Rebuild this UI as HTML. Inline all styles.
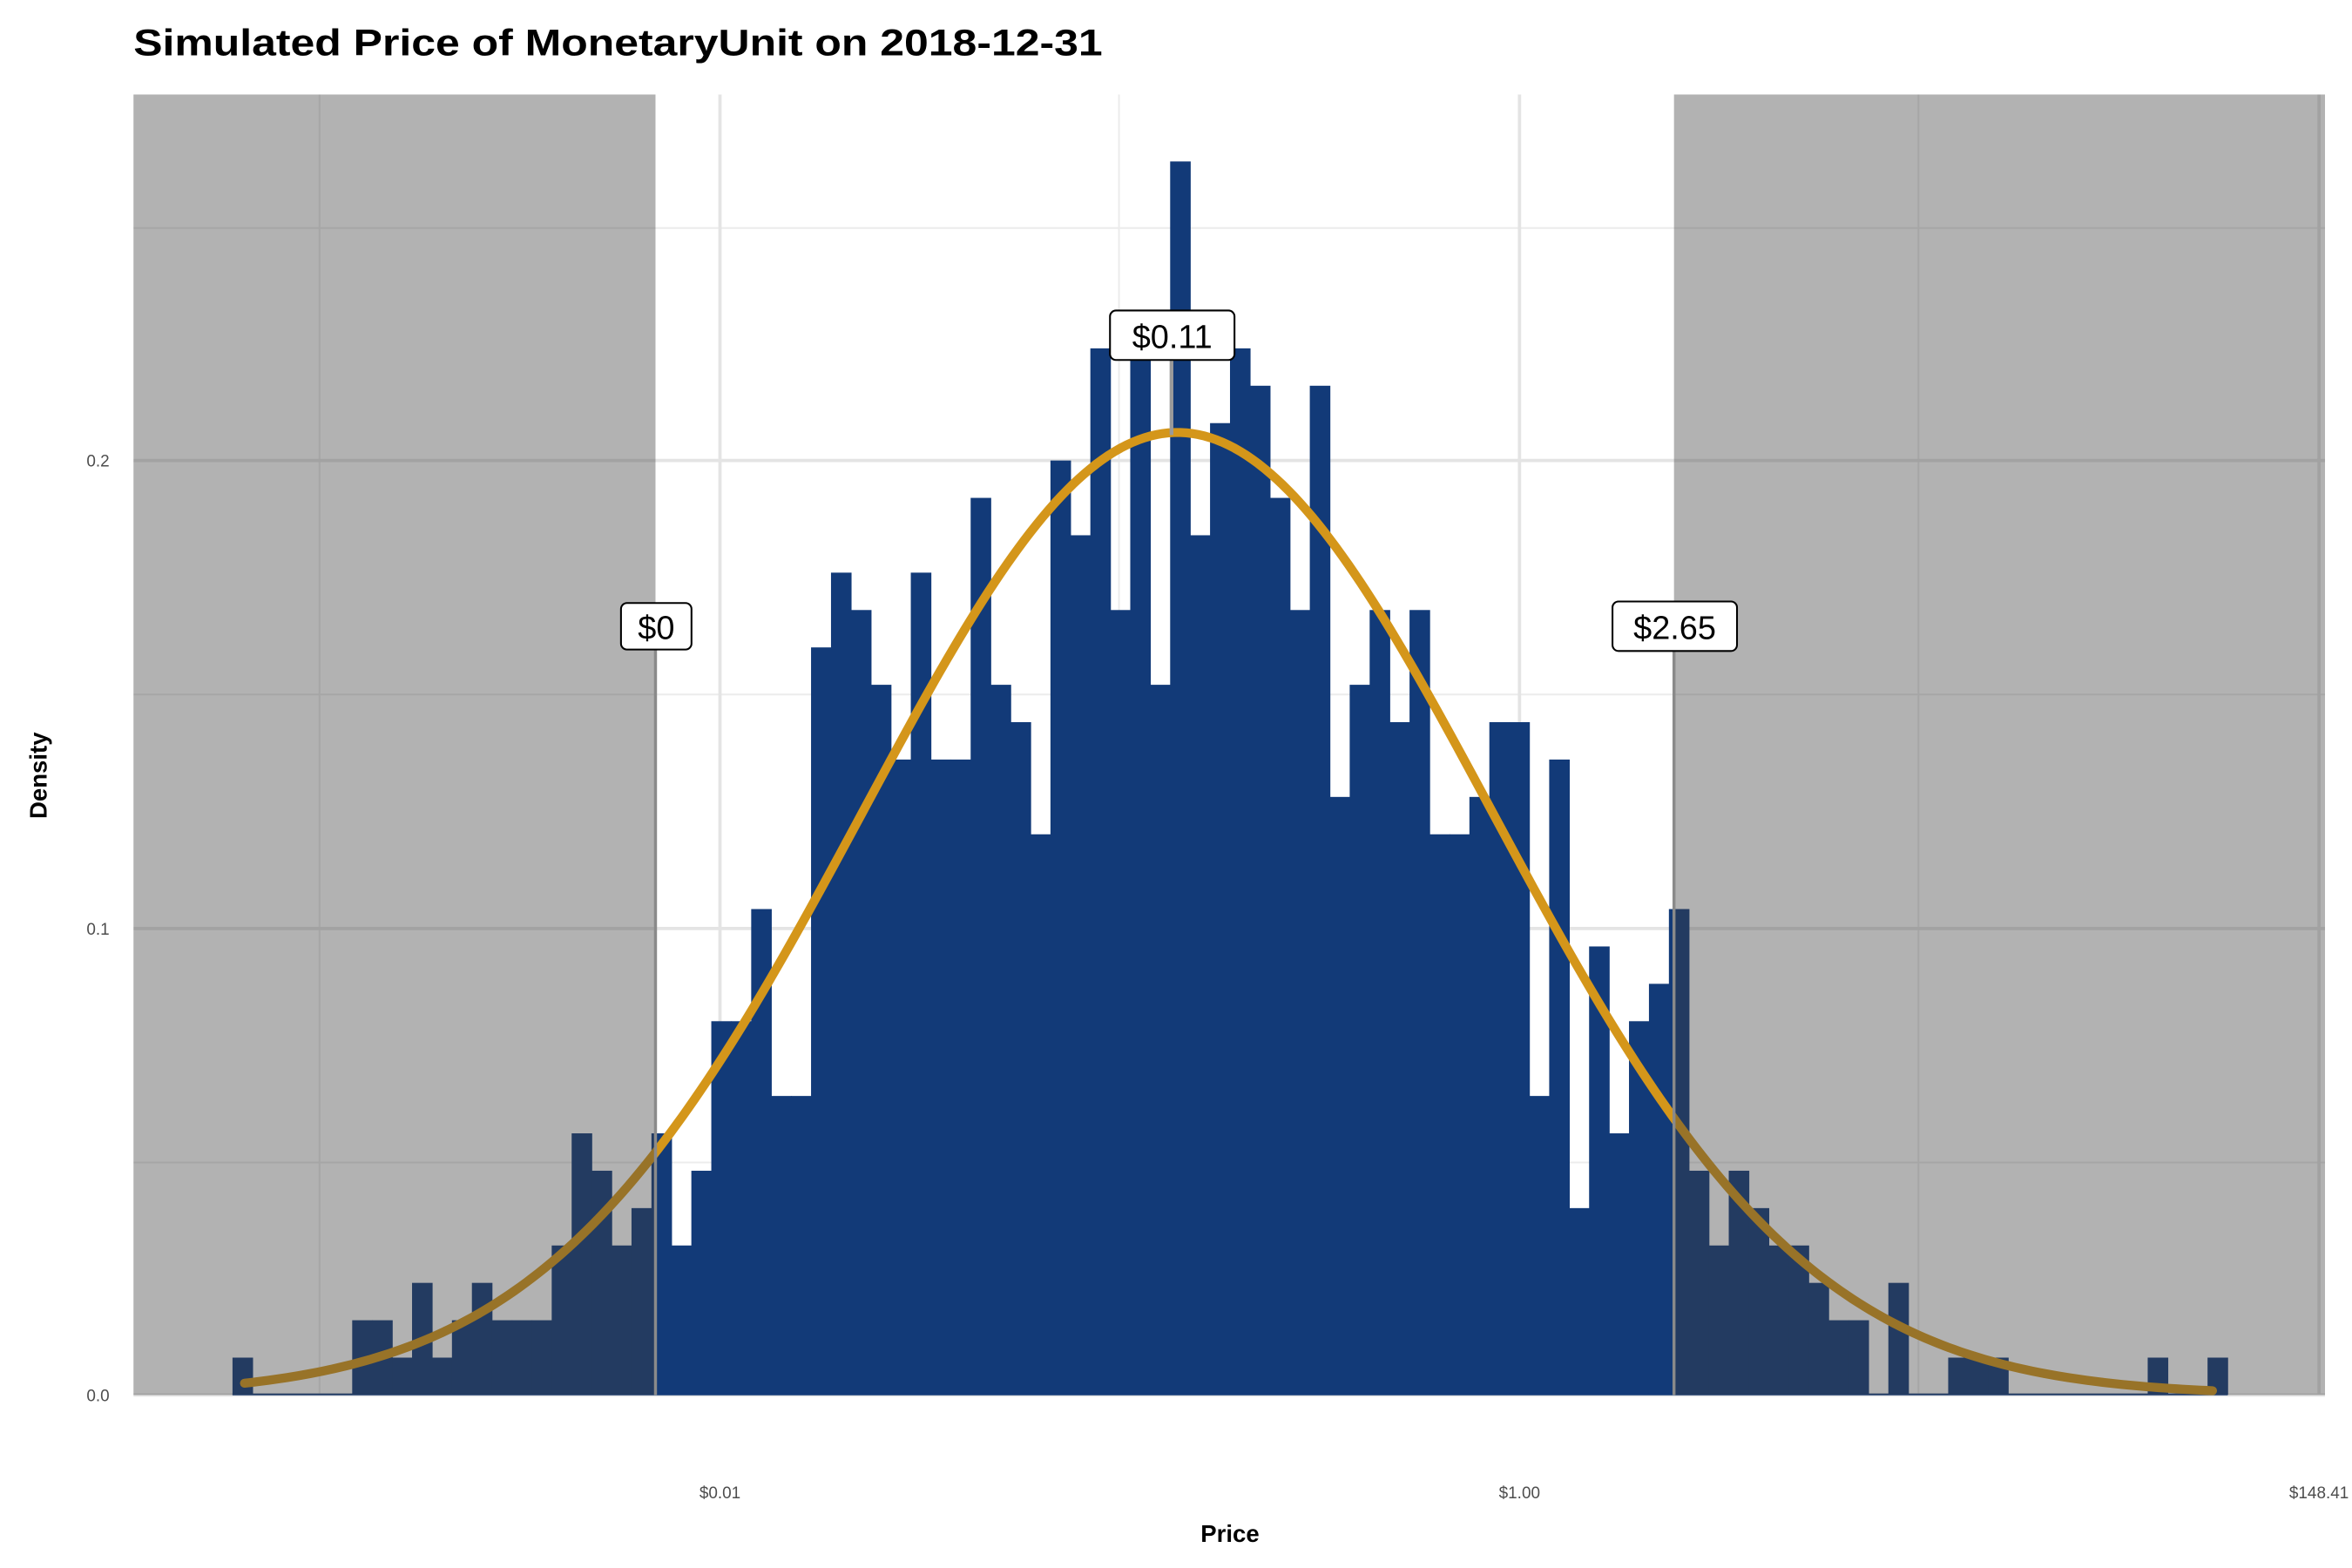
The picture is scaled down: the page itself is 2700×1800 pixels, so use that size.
<!DOCTYPE html>
<html><head><meta charset="utf-8"><style>
html,body{margin:0;padding:0;background:#fff;}
svg{display:block;}
text{font-family:"Liberation Sans",Arial,sans-serif;}
</style></head><body>
<svg id="s" width="2700" height="1800" viewBox="0 0 1568 1045.33" preserveAspectRatio="none" xmlns="http://www.w3.org/2000/svg">
<rect width="1568" height="1046" fill="#fff"/>
<g id="grid"></g>
<g id="bars" fill="#123a78"></g>
<path id="curve" fill="none" stroke="#d4961a" stroke-width="6" stroke-linecap="round"/>
<rect x="89" y="63" width="348" height="867" fill="rgb(63,63,63)" fill-opacity="0.4"/>
<rect x="1116" y="63" width="434" height="867" fill="rgb(63,63,63)" fill-opacity="0.4"/>
<line x1="437" y1="433" x2="437" y2="930" stroke="#8a8a8a" stroke-width="2"/>
<line x1="1116" y1="433" x2="1116" y2="930" stroke="#8a8a8a" stroke-width="2"/>
<line x1="781" y1="240" x2="781" y2="290" stroke="#9a9a9a" stroke-width="2.5"/>
<rect x="414" y="402" width="47" height="31" rx="4" fill="#fff" stroke="#000" stroke-width="1.2"/>
<text x="437.5" y="426" font-size="22" text-anchor="middle">$0</text>
<rect x="740" y="207" width="83" height="33" rx="4" fill="#fff" stroke="#000" stroke-width="1.2"/>
<text x="781.5" y="232" font-size="22" text-anchor="middle">$0.11</text>
<rect x="1075" y="401" width="83" height="33" rx="4" fill="#fff" stroke="#000" stroke-width="1.2"/>
<text x="1116.5" y="426" font-size="22" text-anchor="middle">$2.65</text>
<text x="89" y="37" font-size="25" font-weight="bold" textLength="646" lengthAdjust="spacingAndGlyphs">Simulated Price of MonetaryUnit on 2018-12-31</text>
<g font-size="11" fill="#4d4d4d" text-anchor="end">
<text x="73" y="934">0.0</text><text x="73" y="623">0.1</text><text x="73" y="311">0.2</text>
</g>
<g font-size="11" fill="#4d4d4d" text-anchor="middle">
<text x="480" y="999">$0.01</text><text x="1013" y="999">$1.00</text><text x="1546" y="999">$148.41</text>
</g>
<text x="820" y="1028" font-size="16" font-weight="bold" text-anchor="middle">Price</text>
<text transform="translate(31,517) rotate(-90)" font-size="16" font-weight="bold" text-anchor="middle">Density</text>
</svg>
<script>
var NS="http://www.w3.org/2000/svg";
function el(p,t,a){var e=document.createElementNS(NS,t);for(var k in a)e.setAttribute(k,a[k]);p.appendChild(e);return e;}
var g=document.getElementById('grid');
[775,463,152].forEach(function(y){el(g,'line',{x1:89,x2:1550,y1:y,y2:y,stroke:'#ececec','stroke-width':1.2});});
[213,746,1279].forEach(function(x){el(g,'line',{x1:x,x2:x,y1:63,y2:930,stroke:'#ececec','stroke-width':1.2});});
[930,619,307].forEach(function(y){el(g,'line',{x1:89,x2:1550,y1:y,y2:y,stroke:'#e4e4e4','stroke-width':2.2});});
[480,1013,1546].forEach(function(x){el(g,'line',{x1:x,x2:x,y1:63,y2:930,stroke:'#e4e4e4','stroke-width':2.2});});
var h=[1,0,0,0,0,0,2,2,1,3,1,2,3,2,2,2,4,7,6,4,5,7,4,6,10,10,13,8,8,20,22,21,19,17,22,17,17,24,19,18,15,25,23,28,21,28,19,33,23,26,28,27,24,21,27,16,19,21,18,21,15,15,16,18,18,8,17,5,12,7,10,11,13,6,4,6,5,4,4,3,2,2,0,3,0,0,1,1,1,0,0,0,0,0,0,0,1,0,0,1];
var b=document.getElementById('bars'),x0=155,w=13.3,u=0.008*3115;
for(var i=0;i<h.length;i++){if(!h[i])continue;var hh=h[i]*u;el(b,'rect',{x:(x0+i*w).toFixed(2),y:(930-hh).toFixed(2),width:(w+0.4).toFixed(2),height:hh.toFixed(2)});}
el(b,'rect',{x:155,y:929,width:1330,height:1.2});
var d='';for(var x=163;x<=1475;x+=4){var y=930-0.206*3115*Math.exp(-Math.pow(x-785,2)/(2*209.6*209.6));d+=(d?'L':'M')+x+' '+y.toFixed(2);}
document.getElementById('curve').setAttribute('d',d);
</script>
</body></html>
